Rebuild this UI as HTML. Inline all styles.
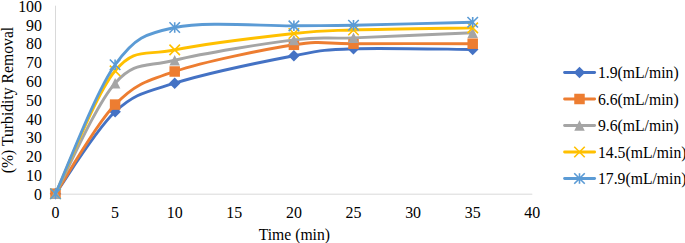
<!DOCTYPE html>
<html><head><meta charset="utf-8"><style>
html,body{margin:0;padding:0;background:#fff;}
body{width:685px;height:243px;position:relative;overflow:hidden;font-family:"Liberation Serif",serif;color:#000;font-size:15.9px;}
.yl{position:absolute;left:0;width:42px;text-align:right;line-height:17px;height:17px;}
.xl{position:absolute;top:203.7px;width:40px;text-align:center;line-height:17px;}
.lg{position:absolute;font-size:15.7px;left:598px;line-height:17px;white-space:nowrap;}
.xt{position:absolute;font-size:15.7px;left:258.7px;top:226px;line-height:17px;white-space:nowrap;}
.yt{position:absolute;font-size:15.7px;left:6.6px;top:100.2px;width:0;height:0;}
.yt span{position:absolute;white-space:nowrap;line-height:17px;transform:translate(-50%,-50%) rotate(-90deg);display:block;}
</style></head><body>
<svg width="685" height="243" viewBox="0 0 685 243" style="position:absolute;left:0;top:0">
<path d="M55.5,5.7 V194.2 H532.3" stroke="#D9D9D9" stroke-width="1" fill="none"/>
<path d="M55.50,193.70 C65.43,180.04 95.23,130.16 115.10,111.73 C134.97,93.31 144.90,92.49 174.70,83.16 C204.50,73.82 264.10,61.44 293.90,55.71 C323.70,49.97 323.70,49.79 353.50,48.75 C383.30,47.72 452.83,49.38 472.70,49.50" stroke="#4472C4" stroke-width="2.9" fill="none" stroke-linecap="round" stroke-linejoin="round"/>
<path d="M55.50,187.95 l5.75,5.75 l-5.75,5.75 l-5.75,-5.75 z" fill="#4472C4"/>
<path d="M115.10,105.98 l5.75,5.75 l-5.75,5.75 l-5.75,-5.75 z" fill="#4472C4"/>
<path d="M174.70,77.41 l5.75,5.75 l-5.75,5.75 l-5.75,-5.75 z" fill="#4472C4"/>
<path d="M293.90,49.96 l5.75,5.75 l-5.75,5.75 l-5.75,-5.75 z" fill="#4472C4"/>
<path d="M353.50,43.00 l5.75,5.75 l-5.75,5.75 l-5.75,-5.75 z" fill="#4472C4"/>
<path d="M472.70,43.75 l5.75,5.75 l-5.75,5.75 l-5.75,-5.75 z" fill="#4472C4"/>
<path d="M55.50,193.70 C65.43,178.85 95.23,124.95 115.10,104.59 C134.97,84.22 144.90,81.46 174.70,71.50 C204.50,61.54 264.10,49.44 293.90,44.80 C323.70,40.17 323.70,43.86 353.50,43.68 C383.30,43.49 452.83,43.68 472.70,43.68" stroke="#ED7D31" stroke-width="2.9" fill="none" stroke-linecap="round" stroke-linejoin="round"/>
<rect x="50.25" y="188.45" width="10.5" height="10.5" fill="#ED7D31"/>
<rect x="109.85" y="99.34" width="10.5" height="10.5" fill="#ED7D31"/>
<rect x="169.45" y="66.25" width="10.5" height="10.5" fill="#ED7D31"/>
<rect x="288.65" y="39.55" width="10.5" height="10.5" fill="#ED7D31"/>
<rect x="348.25" y="38.43" width="10.5" height="10.5" fill="#ED7D31"/>
<rect x="467.45" y="38.43" width="10.5" height="10.5" fill="#ED7D31"/>
<path d="M55.50,193.70 C65.43,175.28 95.23,105.40 115.10,83.16 C134.97,60.91 144.90,67.43 174.70,60.22 C204.50,53.01 264.10,43.64 293.90,39.92 C323.70,36.19 323.70,39.04 353.50,37.85 C383.30,36.66 452.83,33.62 472.70,32.77" stroke="#A5A5A5" stroke-width="2.9" fill="none" stroke-linecap="round" stroke-linejoin="round"/>
<path d="M55.50,188.45 l5.25,10.5 l-10.5,0 z" fill="#A5A5A5"/>
<path d="M115.10,77.91 l5.25,10.5 l-10.5,0 z" fill="#A5A5A5"/>
<path d="M174.70,54.97 l5.25,10.5 l-10.5,0 z" fill="#A5A5A5"/>
<path d="M293.90,34.67 l5.25,10.5 l-10.5,0 z" fill="#A5A5A5"/>
<path d="M353.50,32.60 l5.25,10.5 l-10.5,0 z" fill="#A5A5A5"/>
<path d="M472.70,27.52 l5.25,10.5 l-10.5,0 z" fill="#A5A5A5"/>
<path d="M55.50,193.70 C65.43,173.24 95.23,94.91 115.10,70.94 C134.97,46.97 144.90,56.12 174.70,49.88 C204.50,43.64 264.10,36.85 293.90,33.52 C323.70,30.20 323.70,30.89 353.50,29.95 C383.30,29.01 452.83,28.23 472.70,27.88" stroke="#FFC000" stroke-width="2.9" fill="none" stroke-linecap="round" stroke-linejoin="round"/>
<path d="M50.25,188.45 l10.5,10.5 M50.25,198.95 l10.5,-10.5" stroke="#FFC000" stroke-width="1.6" fill="none"/>
<path d="M109.85,65.69 l10.5,10.5 M109.85,76.19 l10.5,-10.5" stroke="#FFC000" stroke-width="1.6" fill="none"/>
<path d="M169.45,44.63 l10.5,10.5 M169.45,55.13 l10.5,-10.5" stroke="#FFC000" stroke-width="1.6" fill="none"/>
<path d="M288.65,28.27 l10.5,10.5 M288.65,38.77 l10.5,-10.5" stroke="#FFC000" stroke-width="1.6" fill="none"/>
<path d="M348.25,24.70 l10.5,10.5 M348.25,35.20 l10.5,-10.5" stroke="#FFC000" stroke-width="1.6" fill="none"/>
<path d="M467.45,22.63 l10.5,10.5 M467.45,33.13 l10.5,-10.5" stroke="#FFC000" stroke-width="1.6" fill="none"/>
<path d="M55.50,193.70 C65.43,172.21 95.23,92.43 115.10,64.73 C134.97,37.03 144.90,33.99 174.70,27.51 C204.50,21.02 264.10,26.19 293.90,25.82 C323.70,25.44 323.70,25.85 353.50,25.25 C383.30,24.66 452.83,22.75 472.70,22.24" stroke="#5B9BD5" stroke-width="2.9" fill="none" stroke-linecap="round" stroke-linejoin="round"/>
<path d="M50.25,188.45 l10.5,10.5 M50.25,198.95 l10.5,-10.5 M55.50,188.45 l0,10.5" stroke="#5B9BD5" stroke-width="1.6" fill="none"/>
<path d="M109.85,59.48 l10.5,10.5 M109.85,69.98 l10.5,-10.5 M115.10,59.48 l0,10.5" stroke="#5B9BD5" stroke-width="1.6" fill="none"/>
<path d="M169.45,22.26 l10.5,10.5 M169.45,32.76 l10.5,-10.5 M174.70,22.26 l0,10.5" stroke="#5B9BD5" stroke-width="1.6" fill="none"/>
<path d="M288.65,20.57 l10.5,10.5 M288.65,31.07 l10.5,-10.5 M293.90,20.57 l0,10.5" stroke="#5B9BD5" stroke-width="1.6" fill="none"/>
<path d="M348.25,20.00 l10.5,10.5 M348.25,30.50 l10.5,-10.5 M353.50,20.00 l0,10.5" stroke="#5B9BD5" stroke-width="1.6" fill="none"/>
<path d="M467.45,16.99 l10.5,10.5 M467.45,27.49 l10.5,-10.5 M472.70,16.99 l0,10.5" stroke="#5B9BD5" stroke-width="1.6" fill="none"/>
<path d="M564.6,72.5 H594.6" stroke="#4472C4" stroke-width="2.9" stroke-linecap="round"/>
<path d="M579.50,66.75 l5.75,5.75 l-5.75,5.75 l-5.75,-5.75 z" fill="#4472C4"/>
<path d="M564.6,99 H594.6" stroke="#ED7D31" stroke-width="2.9" stroke-linecap="round"/>
<rect x="574.25" y="93.75" width="10.5" height="10.5" fill="#ED7D31"/>
<path d="M564.6,125.5 H594.6" stroke="#A5A5A5" stroke-width="2.9" stroke-linecap="round"/>
<path d="M579.50,120.25 l5.25,10.5 l-10.5,0 z" fill="#A5A5A5"/>
<path d="M564.6,152 H594.6" stroke="#FFC000" stroke-width="2.9" stroke-linecap="round"/>
<path d="M574.25,146.75 l10.5,10.5 M574.25,157.25 l10.5,-10.5" stroke="#FFC000" stroke-width="1.6" fill="none"/>
<path d="M564.6,178.5 H594.6" stroke="#5B9BD5" stroke-width="2.9" stroke-linecap="round"/>
<path d="M574.25,173.25 l10.5,10.5 M574.25,183.75 l10.5,-10.5 M579.50,173.25 l0,10.5" stroke="#5B9BD5" stroke-width="1.6" fill="none"/>
</svg>
<div class="yl" style="top:185.8px">0</div>
<div class="yl" style="top:167.0px">10</div>
<div class="yl" style="top:148.2px">20</div>
<div class="yl" style="top:129.4px">30</div>
<div class="yl" style="top:110.6px">40</div>
<div class="yl" style="top:91.8px">50</div>
<div class="yl" style="top:73.0px">60</div>
<div class="yl" style="top:54.2px">70</div>
<div class="yl" style="top:35.4px">80</div>
<div class="yl" style="top:16.6px">90</div>
<div class="yl" style="top:-2.2px">100</div>
<div class="xl" style="left:35.5px">0</div>
<div class="xl" style="left:95.1px">5</div>
<div class="xl" style="left:154.7px">10</div>
<div class="xl" style="left:214.3px">15</div>
<div class="xl" style="left:273.9px">20</div>
<div class="xl" style="left:333.5px">25</div>
<div class="xl" style="left:393.1px">30</div>
<div class="xl" style="left:452.7px">35</div>
<div class="xl" style="left:512.3px">40</div>
<div class="lg" style="top:64.3px">1.9(mL/min)</div>
<div class="lg" style="top:90.8px">6.6(mL/min)</div>
<div class="lg" style="top:117.3px">9.6(mL/min)</div>
<div class="lg" style="top:143.8px">14.5(mL/min)</div>
<div class="lg" style="top:170.3px">17.9(mL/min)</div>
<div class="xt">Time (min)</div>
<div class="yt"><span>(%) Turbidity Removal</span></div>
</body></html>
